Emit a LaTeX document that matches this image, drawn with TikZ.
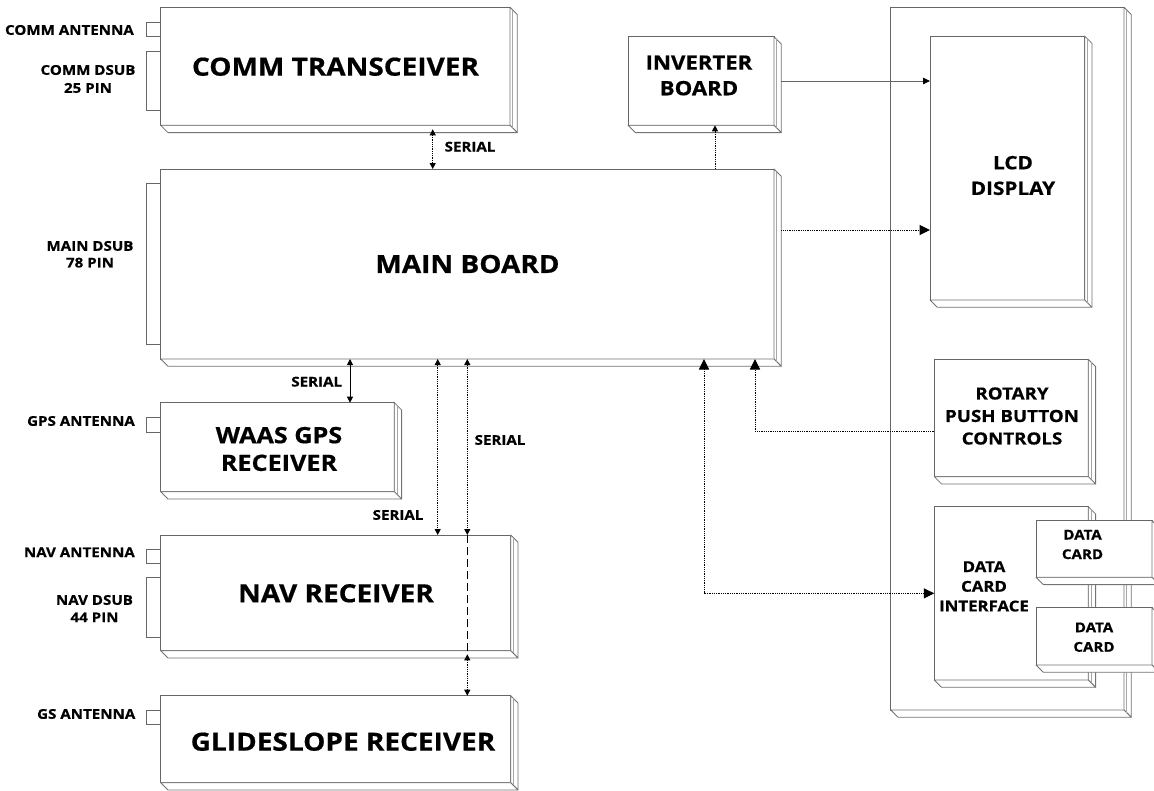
\documentclass[tikz,border=0pt]{standalone}
\usepackage{fontspec}
\setmainfont{Open Sans}[FakeStretch=1.12, BoldFeatures={FakeBold=0.6}]
\usetikzlibrary{arrows.meta,calc}
\tikzset{
  front/.style={draw=black!60, line width=0.8pt, fill=white, inner sep=0pt, outer sep=0pt, anchor=north west},
  side/.style={draw=black!55, line width=0.8pt, fill=white, line join=round},
  stub/.style={draw=black!60, line width=0.8pt},
  bigtext/.style={font=\fontsize{25}{30}\selectfont\bfseries, inner sep=0pt},
  smalltext/.style={font=\fontsize{13.5}{17}\selectfont\bfseries, inner sep=0pt},
  dotline/.style={line width=1pt, dash pattern=on 1pt off 0.8pt},
  dashline/.style={line width=1pt, dash pattern=on 8pt off 4pt},
  sh/.tip={Triangle[length=6pt,width=6pt]},
  bh/.tip={Triangle[length=10.5pt,width=10pt]},
  mh/.tip={Triangle[length=7pt,width=6.5pt,color=black]},
}
\newcommand\boxthreed[5]{%
  \node[front, minimum width=#4pt, minimum height=#5pt] (#1) at (#2,#3) {};
  \draw[side] (#1.north east) -- ++(7.3,7.3) -- ($(#1.south east)+(7.3,7.3)$) -- (#1.south east) -- cycle;
  \draw[side] (#1.south west) -- ++(7.3,7.3) -- ($(#1.south east)+(7.3,7.3)$) -- (#1.south east) -- cycle;
  \draw[black!35, line width=0.6pt] ($(#1.north east)+(2.5,2.5)$) -- ($(#1.south east)+(2.5,2.5)$);
}
\begin{document}
\begin{tikzpicture}[x=1pt,y=-1pt]
\useasboundingbox (0,0) rectangle (1154,790);
% panel and right-hand units
\boxthreed{panel}{890.7}{7.3}{233.3}{702.7}
\boxthreed{lcd}{930}{36}{154.6}{264}
\boxthreed{rot}{934.3}{359.3}{154}{117.4}
\boxthreed{dci}{934.3}{506.7}{154}{173.3}
\boxthreed{cardA}{1036}{520.7}{116}{56.6}
\boxthreed{cardB}{1036}{607.7}{116}{57.3}
% left-hand units
\boxthreed{comm}{160.7}{7.3}{349.3}{118}
\boxthreed{inv}{628}{36.7}{146}{88.6}
\boxthreed{main}{160.7}{169}{613.3}{190}
\boxthreed{waas}{160.7}{402.7}{233.6}{89}
\boxthreed{nav}{160.7}{535}{350}{115.7}
\boxthreed{gs}{160.7}{695.7}{350}{87}
% connector stubs
\draw[stub] (146,22) rectangle (comm.west |- 0,36);
\draw[stub] (146,51.7) rectangle (comm.west |- 0,110);
\draw[stub] (146,183.3) rectangle (main.west |- 0,344.3);
\draw[stub] (146,417.3) rectangle (waas.west |- 0,432.3);
\draw[stub] (146,549) rectangle (nav.west |- 0,563.3);
\draw[stub] (146,577.5) rectangle (nav.west |- 0,637.3);
\draw[stub] (146,710) rectangle (gs.west |- 0,724.3);
% texts in boxes
\node[bigtext] (commt) at (335.5,66.7) {COMM TRANSCEIVER};
\node[bigtext] (maint) at (467.5,264) {MAIN BOARD};
\node[bigtext] (navt) at (336,593.3) {NAV RECEIVER};
\node[bigtext] (gst) at (343,741.7) {GLIDESLOPE RECEIVER};
\node[inner sep=0pt, align=center, font=\fontsize{22.5}{27.7}\selectfont\bfseries] (waast) at (279,449) {WAAS GPS\\RECEIVER};
\node[inner sep=0pt, align=center, font=\fontsize{19.8}{25.6}\selectfont\bfseries] (invt) at (699,75.5) {INVERTER\\BOARD};
\node[inner sep=0pt, align=center, font=\fontsize{18.5}{25.6}\selectfont\bfseries] (lcdt) at (1013,175.5) {LCD\\DISPLAY};
\node[inner sep=0pt, align=center, font=\fontsize{16.7}{22.5}\selectfont\bfseries] (rott) at (1012,416) {ROTARY\\PUSH BUTTON\\CONTROLS};
\node[inner sep=0pt, align=center, font=\fontsize{15}{19.7}\selectfont\bfseries] (dcit) at (984,586.4) {DATA\\CARD\\INTERFACE};
\node[inner sep=0pt, align=center, font=\fontsize{13.5}{19.5}\selectfont\bfseries] (cardAt) at (1082.5,544.5) {DATA\\CARD};
\node[inner sep=0pt, align=center, font=\fontsize{13.5}{19.5}\selectfont\bfseries] (cardBt) at (1094,637.2) {DATA\\CARD};
% left labels
\node[smalltext, anchor=east] (l1) at (134,30) {COMM ANTENNA};
\node[smalltext, align=center, font=\fontsize{13.5}{18}\selectfont\bfseries] (l2) at (88,79) {COMM DSUB\\25 PIN};
\node[smalltext, align=center, font=\fontsize{13.5}{16.7}\selectfont\bfseries] (l3) at (90,254.3) {MAIN DSUB\\78 PIN};
\node[smalltext, anchor=east] (l4) at (135,421) {GPS ANTENNA};
\node[smalltext, anchor=east] (l5) at (135,552.3) {NAV ANTENNA};
\node[smalltext, align=center, font=\fontsize{13.5}{17.3}\selectfont\bfseries] (l6) at (94.5,608.6) {NAV DSUB\\44 PIN};
\node[smalltext, anchor=east] (l7) at (135.5,714) {GS ANTENNA};
% serial labels
\node[smalltext] (s1) at (470,146.7) {SERIAL};
\node[smalltext] (s2) at (316.7,381.7) {SERIAL};
\node[smalltext] (s3) at (500,440) {SERIAL};
\node[smalltext] (s4) at (398,515) {SERIAL};
% helper coordinates
\coordinate (xa) at (432.7,0);
\coordinate (xb) at (715,0);
\coordinate (yc) at (0,230);
\coordinate (xd) at (350,0);
\coordinate (xe) at (437.7,0);
\coordinate (xf) at (467.3,0);
\coordinate (xg) at (755,0);
\coordinate (yr) at (0,431);
\coordinate (xh) at (704,0);
% connectors
\draw[dotline, sh-sh] ($(comm.south -| xa)+(0,4)$) -- (main.north -| xa);
\draw[dotline, -sh] (main.north -| xb) -- (inv.south -| xb);
\draw[stub, -mh] ($(inv.east)+(7.3,0)$) -- (lcd.west |- inv.east);
\draw[dotline, -bh] ($(main.east |- yc)+(7.3,0)$) -- (lcd.west |- yc);
\draw[line width=0.8pt, sh-sh] (main.south -| xd) -- (waas.north -| xd);
\draw[dotline, sh-sh] (main.south -| xe) -- (nav.north -| xe);
\draw[dotline, sh-sh] (main.south -| xf) -- (nav.north -| xf);
\draw[dashline] (nav.north -| xf) -- (nav.south -| xf);
\draw[dotline, sh-sh] ($(nav.south -| xf)+(0,3.6)$) -- (gs.north -| xf);
\draw[dotline, -bh] (rot.west |- yr) -| (main.south -| xg);
\draw[dotline, bh-bh] (main.south -| xh) |- (dci.west);
\end{tikzpicture}
\end{document}
